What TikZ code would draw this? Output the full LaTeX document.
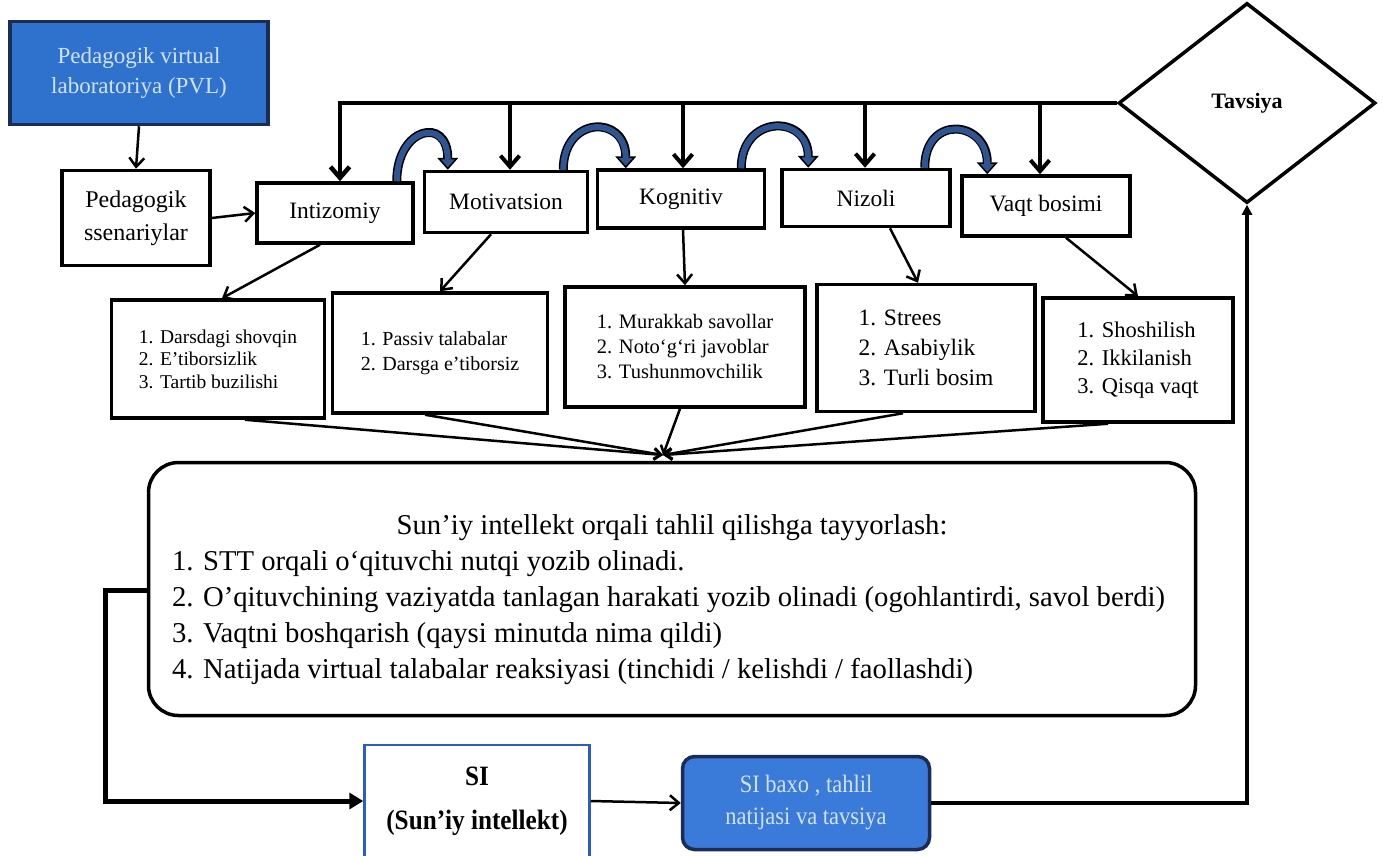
\documentclass[tikz,border=0pt]{standalone}
\usepackage{fontspec}
\setmainfont{Liberation Serif}
\newfontfamily\condserif[FakeStretch=0.9]{Liberation Serif}
\usetikzlibrary{arrows.meta,shapes.geometric,calc}
\definecolor{pvlblue}{HTML}{2F72CE}
\definecolor{pvltext}{HTML}{D2E2F6}
\definecolor{navy}{HTML}{1B2C55}
\definecolor{arcblue}{HTML}{2E5592}
\definecolor{siblue}{HTML}{2A5CC4}
\definecolor{baxoblue}{HTML}{3A7AD8}
\begin{document}
\begin{tikzpicture}[x=1pt,y=-1pt,
  box/.style={draw=black, line width=3.5pt, fill=white, inner sep=0pt, align=center},
  lbl/.style={box, font=\fontsize{23.5}{30}\selectfont},
  lst/.style={box, align=left},
  arr/.style={line width=2.5pt, -{Straight Barb[length=9pt,width=15pt]}},
  busline/.style={line width=4.5pt},
  busarr/.style={line width=4pt, -{Straight Barb[length=11pt,width=19pt]}},
  conv/.style={line width=2.5pt, -{Straight Barb[length=7pt,width=11pt]}},
  bluearc/.style={line width=9pt, black, -{Triangle[length=12pt,width=21pt,fill=arcblue,line width=1.5pt]}},
  bluein/.style={line width=6pt, arcblue, shorten >=10pt}
]
\useasboundingbox (0,0) rectangle (1383,855);
\fill[white] (0,0) rectangle (1383,855);

% top row
\node[box, minimum width=258pt, minimum height=103pt, fill=pvlblue, draw=navy, text=pvltext,
      font=\fontsize{23}{30}\selectfont] (pvl) at (139,73) {Pedagogik virtual\\laboratoriya (PVL)};
\node[lbl, minimum width=148pt, minimum height=95pt, font=\fontsize{24}{33}\selectfont] (ssen) at (136,218) {Pedagogik\\ssenariylar};
\node[lbl, minimum width=156pt, minimum height=60pt] (intiz) at (335,213) {Intizomiy};
\node[lbl, minimum width=163pt, minimum height=61pt] (motiv) at (506,202) {Motivatsion};
\node[lbl, minimum width=167pt, minimum height=58pt] (kogn) at (681,199) {Kognitiv};
\node[lbl, minimum width=168pt, minimum height=57pt] (nizo) at (866,198) {Nizoli};
\node[lbl, minimum width=168pt, minimum height=60pt] (vaqt) at (1046,206) {Vaqt bosimi};
\node[diamond, draw=black, line width=3.5pt, fill=white, minimum width=257pt, minimum height=200pt,
      inner sep=0pt, font=\bfseries\fontsize{22}{26}\selectfont] (tav) at (1247,103) {Tavsiya};

% second row
\node[lst, minimum width=213pt, minimum height=118pt, font=\fontsize{19.5}{22.5}\selectfont] (b1) at (218,359)
  {1. Darsdagi shovqin\\2. E’tiborsizlik\\3. Tartib buzilishi};
\node[lst, minimum width=215pt, minimum height=120pt, font=\fontsize{20}{25}\selectfont] (b2) at (440,353)
  {1. Passiv talabalar\\2. Darsga e’tiborsiz};
\node[lst, minimum width=240pt, minimum height=120pt, font=\fontsize{20.5}{25}\selectfont] (b3) at (685,347)
  {1. Murakkab savollar\\2. Noto‘g‘ri javoblar\\3. Tushunmovchilik};
\node[lst, minimum width=218pt, minimum height=127pt, font=\fontsize{23.5}{30}\selectfont] (b4) at (926,348)
  {1. Strees\\2. Asabiylik\\3. Turli bosim};
\node[lst, minimum width=190pt, minimum height=124pt, font=\fontsize{22.5}{28}\selectfont] (b5) at (1138,360)
  {1. Shoshilish\\2. Ikkilanish\\3. Qisqa vaqt};

% big box
\node[box, rounded corners=30pt, minimum width=1047pt, minimum height=253pt, align=left,
      font=\fontsize{28.7}{36}\selectfont] (prep) at (672,589)
  {\makebox[1000pt][c]{\rule{0pt}{42pt}Sun’iy intellekt orqali tahlil qilishga tayyorlash:}\\
   1. STT orqali o‘qituvchi nutqi yozib olinadi.\\
   2. O’qituvchining vaziyatda tanlagan harakati yozib olinadi (ogohlantirdi, savol berdi)\\
   3. Vaqtni boshqarish (qaysi minutda nima qildi)\\
   4. Natijada virtual talabalar reaksiyasi (tinchidi / kelishdi / faollashdi)};

% bottom
\node[box, draw=siblue, line width=2.5pt, minimum width=225pt, minimum height=112pt,
      font=\condserif\bfseries\fontsize{28}{44}\selectfont] (si) at (477,801) {SI\\(Sun’iy intellekt)};
\node[box, rounded corners=12pt, draw=navy, fill=baxoblue, text=pvltext, minimum width=247pt, minimum height=93pt,
      font=\condserif\fontsize{25}{32}\selectfont] (baxo) at (806,803) {SI baxo , tahlil\\natijasi va tavsiya};

% connectors top
\draw[arr] (pvl.south) -- (ssen.north);
\draw[arr] (ssen.east) -- (intiz.west);

% bus from Tavsiya
\coordinate (di) at ($(intiz.north)+(5,0)$);
\coordinate (dm) at ($(motiv.north)+(4,0)$);
\coordinate (dk) at ($(kogn.north)+(2,0)$);
\coordinate (dn) at ($(nizo.north)+(-1,0)$);
\coordinate (dv) at ($(vaqt.north)+(-6,0)$);
\draw[busline, -{Straight Barb[length=11pt,width=19pt]}] (tav.west) -| (di);
\draw[busarr] (dm |- tav.west) -- (dm);
\draw[busarr] (dk |- tav.west) -- (dk);
\draw[busarr] (dn |- tav.west) -- (dn);
\draw[busarr] (dv |- tav.west) -- (dv);

% blue arcs
\foreach \a/\b/\da/\db in {intiz/motiv/-18/25, motiv/kogn/-26/30, kogn/nizo/-25/28, nizo/vaqt/-27/27}{
  \draw[bluearc] ($(\a.north east)+(\da,0)$) .. controls +(0,-54) and +(0,-54) .. ($(\b.north west)+(\db,0)$);
  \draw[bluein] ($(\a.north east)+(\da,0)$) .. controls +(0,-54) and +(0,-54) .. ($(\b.north west)+(\db,0)$);
}

% row1 -> row2
\draw[arr] ($(intiz.south)+(-15,0)$) -- ($(b1.north)+(4,0)$);
\draw[arr] ($(motiv.south)+(-15,0)$) -- (b2.north);
\draw[arr] ($(kogn.south)+(2,0)$) -- (b3.north);
\draw[arr] ($(nizo.south)+(24,0)$) -- ($(b4.north)+(-8,0)$);
\draw[arr] ($(vaqt.south)+(20,0)$) -- ($(b5.north)+(0,0)$);

% converging
\coordinate (C) at (663,455);
\draw[conv] ($(b1.south)+(27,0)$) -- (C);
\draw[conv] ($(b2.south)+(-15,0)$) -- (C);
\draw[conv] ($(b3.south)+(-5,0)$) -- (C);
\draw[conv] ($(b4.south)+(-23,0)$) -- (C);
\draw[conv] ($(b5.south)+(-30,0)$) -- (C);

% loop and bottom
\draw[line width=5pt, -{Triangle[length=14pt,width=16pt]}] ($(prep.west)+(0,1)$) -- ++(-41,0) |- (si.west);
\draw[line width=2.5pt, -{Straight Barb[length=9pt,width=15pt]}] (si.east) -- (baxo.west);
\draw[line width=4pt, -{Triangle[length=10pt,width=10pt]}] (baxo.east) -- (tav.south |- baxo.east) -- (tav.south);
\end{tikzpicture}
\end{document}
